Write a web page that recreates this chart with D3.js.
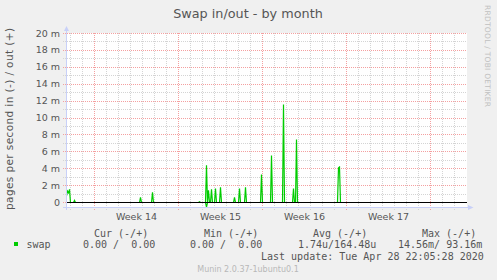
<!DOCTYPE html>
<html>
<head>
<meta charset="utf-8">
<script src="https://cdn.jsdelivr.net/npm/d3@7"></script>
<style>
	body { margin: 0; background: #f0f0f0; }
	svg { display: block; }
</style>
</head>
<body>
<svg id="chart"></svg>
<script>
var width = 497;
var height = 280;

// time window of the month graph
var timeStart = "2020-03-27 16:00";
var timeEnd = "2020-04-30 00:00";

// swap out (+), milli pages per second
var outTimes = [
	"2020-03-27 16:00", "2020-03-27 18:00", "2020-03-27 20:00", "2020-03-27 22:00", "2020-03-28 00:00",
	"2020-03-28 06:00", "2020-03-28 08:00", "2020-03-28 10:00",
	"2020-04-02 18:00", "2020-04-02 20:00", "2020-04-02 22:00",
	"2020-04-03 18:00", "2020-04-03 20:00", "2020-04-03 22:00",
	"2020-04-07 16:00", "2020-04-07 18:00", "2020-04-07 20:00",
	"2020-04-08 06:00", "2020-04-08 08:00", "2020-04-08 10:00", "2020-04-08 12:00", "2020-04-08 14:00",
	"2020-04-08 16:00", "2020-04-08 18:00", "2020-04-08 20:00",
	"2020-04-09 00:00", "2020-04-09 02:00", "2020-04-09 04:00",
	"2020-04-09 10:00", "2020-04-09 12:00", "2020-04-09 14:00",
	"2020-04-10 14:00", "2020-04-10 16:00", "2020-04-10 18:00",
	"2020-04-11 00:00", "2020-04-11 02:00", "2020-04-11 04:00",
	"2020-04-11 12:00", "2020-04-11 14:00", "2020-04-11 16:00",
	"2020-04-12 20:00", "2020-04-12 22:00", "2020-04-13 00:00",
	"2020-04-13 16:00", "2020-04-13 18:00", "2020-04-13 20:00",
	"2020-04-14 16:00", "2020-04-14 18:00", "2020-04-14 20:00",
	"2020-04-15 12:00", "2020-04-15 14:00", "2020-04-15 16:00",
	"2020-04-15 18:00", "2020-04-15 20:00", "2020-04-15 22:00",
	"2020-04-19 06:00", "2020-04-19 08:00", "2020-04-19 10:00", "2020-04-19 12:00",
	"2020-04-28 22:00"
];
var outValues = [
	0.8, 1.35, 1.15, 1.55, 0,
	0, 0.25, 0,
	0, 0.6, 0,
	0, 1.2, 0,
	0, 0.1, 0,
	0, 4.4, 0, 1.45, 0,
	0, 1.55, 0,
	0, 1.65, 0,
	0, 1.8, 0,
	0, 0.6, 0,
	0, 1.65, 0,
	0, 1.8, 0,
	0, 3.3, 0,
	0, 5.55, 0,
	0, 11.6, 0,
	0, 1.65, 0,
	0, 7.45, 0,
	0, 4.1, 4.2, 0,
	0
];

// swap in (-), milli pages per second
var inTimes = ["2020-03-27 16:00", "2020-04-08 06:00", "2020-04-08 08:00", "2020-04-08 10:00", "2020-04-28 22:00"];
var inValues = [0, 0, 0.55, 0, 0];

var yMajorTicks = [0, 2, 4, 6, 8, 10, 12, 14, 16, 18, 20];
var yMinorTicks = [1, 3, 5, 7, 9, 11, 13, 15, 17, 19];

var legendHeaders = ["Cur (-/+)", "Min (-/+)", "Avg (-/+)", "Max (-/+)"];
var legendValues = ["0.00 /  0.00", "0.00 /  0.00", "1.74u/164.48u", "14.56m/ 93.16m"];

var parseTime = d3.utcParse("%Y-%m-%d %H:%M");
var green = "#00cc00";
var textColor = "#555555";
var axisColor = "#c8d0f8";

var svg = d3.select("#chart")
	.attr("width", width)
	.attr("height", height)
	.style("font-family", "'DejaVu Sans', sans-serif");

svg.append("rect")
	.attr("width", width)
	.attr("height", height)
	.attr("fill", "#f0f0f0");

var x = d3.scaleUtc()
	.domain([parseTime(timeStart), parseTime(timeEnd)])
	.range([66, 466]);

var y = d3.scaleLinear()
	.domain([-0.59, 20])
	.range([207, 33]);

// canvas
svg.append("rect")
	.attr("x", 66)
	.attr("y", 33)
	.attr("width", 401)
	.attr("height", 175)
	.attr("fill", "#ffffff");

var days = d3.utcDay.range(x.domain()[0], x.domain()[1]);
var mondays = d3.utcMonday.range(x.domain()[0], x.domain()[1]);

// minor grid
svg.append("g").selectAll("line")
	.data(yMinorTicks)
	.join("line")
	.attr("x1", 63)
	.attr("x2", 467)
	.attr("y1", d => Math.round(y(d)) + 0.5)
	.attr("y2", d => Math.round(y(d)) + 0.5)
	.attr("stroke", "#d4d4d4")
	.style("stroke-dasharray", "1,1");

svg.append("g").selectAll("line")
	.data(days.filter(d => d.getUTCDay() !== 1))
	.join("line")
	.attr("x1", d => x(d) + 0.5)
	.attr("x2", d => x(d) + 0.5)
	.attr("y1", 33)
	.attr("y2", 210)
	.attr("stroke", "#d4d4d4")
	.style("stroke-dasharray", "1,1");

// major grid
svg.append("g").selectAll("line")
	.data(yMajorTicks)
	.join("line")
	.attr("x1", 63)
	.attr("x2", 467)
	.attr("y1", d => Math.round(y(d)) + 0.5)
	.attr("y2", d => Math.round(y(d)) + 0.5)
	.attr("stroke", "#f4a0a0")
	.style("stroke-dasharray", "1,1");

svg.append("g").selectAll("line")
	.data(mondays)
	.join("line")
	.attr("x1", d => x(d) + 0.5)
	.attr("x2", d => x(d) + 0.5)
	.attr("y1", 33)
	.attr("y2", 210)
	.attr("stroke", "#f4a0a0")
	.style("stroke-dasharray", "1,1");

// series
var outData = outTimes.map((t, i) => ({t: parseTime(t), v: outValues[i]}));
var inData = inTimes.map((t, i) => ({t: parseTime(t), v: -inValues[i]}));

var line = d3.line()
	.x(d => x(d.t) + 0.5)
	.y(d => y(d.v) + 0.5);

svg.append("path")
	.datum(inData)
	.attr("fill", "none")
	.attr("stroke", green)
	.attr("stroke-width", 1.2)
	.attr("d", line);

svg.append("path")
	.datum(outData)
	.attr("fill", "none")
	.attr("stroke", green)
	.attr("stroke-width", 1.2)
	.attr("d", line);

// zero rule
svg.append("line")
	.attr("x1", 66)
	.attr("x2", 467)
	.attr("y1", Math.round(y(0)) + 0.5)
	.attr("y2", Math.round(y(0)) + 0.5)
	.attr("stroke", "#000000");

// axes
svg.append("line")
	.attr("x1", 66.5)
	.attr("x2", 66.5)
	.attr("y1", 210)
	.attr("y2", 30)
	.attr("stroke", axisColor);

svg.append("path")
	.attr("d", "M64,31L69,31L66.5,26Z")
	.attr("fill", axisColor);

svg.append("line")
	.attr("x1", 63)
	.attr("x2", 469)
	.attr("y1", 207.5)
	.attr("y2", 207.5)
	.attr("stroke", axisColor);

svg.append("path")
	.attr("d", "M468,205L468,210L473.5,207.5Z")
	.attr("fill", axisColor);

// y labels
var yAxis = d3.axisLeft(y)
	.tickValues(yMajorTicks)
	.tickSize(0)
	.tickPadding(0)
	.tickFormat(d => d === 0 ? "0" : d + " m");

var yAxisGroup = svg.append("g")
	.attr("transform", "translate(60,0)")
	.call(yAxis);
yAxisGroup.select(".domain").remove();
yAxisGroup.selectAll("text")
	.attr("fill", textColor)
	.style("font-family", "'DejaVu Sans', sans-serif")
	.style("font-size", "9.5px");

// week labels
var weekMids = mondays.map(d => d3.utcHour.offset(d, 84)).filter(d => x(d) < 466);
var xAxis = d3.axisBottom(x)
	.tickValues(weekMids)
	.tickSize(0)
	.tickPadding(0)
	.tickFormat(d => "Week " + d3.utcFormat("%V")(d));

var xAxisGroup = svg.append("g")
	.attr("transform", "translate(0,213.5)")
	.call(xAxis);
xAxisGroup.select(".domain").remove();
xAxisGroup.selectAll("text")
	.attr("fill", textColor)
	.attr("dy", "0.71em")
	.style("font-family", "'DejaVu Sans', sans-serif")
	.style("font-size", "9.5px");

// title
svg.append("text")
	.attr("x", 248)
	.attr("y", 18)
	.attr("text-anchor", "middle")
	.attr("fill", textColor)
	.style("font-size", "12.8px")
	.text("Swap in/out - by month");

svg.append("text")
	.attr("transform", "translate(12.6,119) rotate(-90)")
	.attr("text-anchor", "middle")
	.attr("fill", textColor)
	.style("font-size", "10.5px")
	.attr("textLength", 182)
	.text("pages per second in (-) / out (+)");

svg.append("text")
	.attr("transform", "translate(485,56) rotate(90)")
	.attr("text-anchor", "middle")
	.attr("fill", "#c0c0c0")
	.style("font-size", "7.5px")
	.attr("textLength", 102)
	.text("RRDTOOL / TOBI OETIKER");

// legend
var mono = "'DejaVu Sans Mono', monospace";
var headerX = [94, 204, 313, 422];
var valueX = [83, 190, 298, 398];

svg.append("g").selectAll("text")
	.data(legendHeaders)
	.join("text")
	.attr("x", (d, i) => headerX[i])
	.attr("y", 237)
	.attr("fill", textColor)
	.style("font-family", mono)
	.style("font-size", "10px")
	.style("white-space", "pre")
	.text(d => d);

svg.append("rect")
	.attr("x", 14)
	.attr("y", 242)
	.attr("width", 4)
	.attr("height", 4)
	.attr("fill", green);

svg.append("text")
	.attr("x", 26.5)
	.attr("y", 248)
	.attr("fill", textColor)
	.style("font-family", mono)
	.style("font-size", "10px")
	.text("swap");

svg.append("g").selectAll("text")
	.data(legendValues)
	.join("text")
	.attr("x", (d, i) => valueX[i])
	.attr("y", 248)
	.attr("fill", textColor)
	.style("font-family", mono)
	.style("font-size", "10px")
	.style("white-space", "pre")
	.text(d => d);

svg.append("text")
	.attr("x", 261)
	.attr("y", 260)
	.attr("fill", textColor)
	.style("font-family", mono)
	.style("font-size", "10px")
	.text("Last update: Tue Apr 28 22:05:28 2020");

svg.append("text")
	.attr("x", 248)
	.attr("y", 272)
	.attr("text-anchor", "middle")
	.attr("fill", "#b8b8b8")
	.style("font-size", "8px")
	.text("Munin 2.0.37-1ubuntu0.1");
</script>
</body>
</html>
